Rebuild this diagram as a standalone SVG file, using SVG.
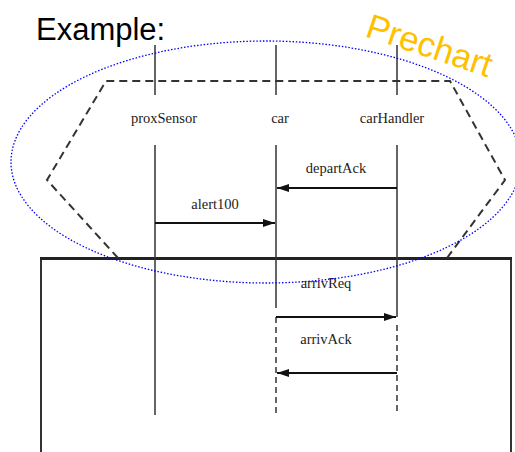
<svg xmlns="http://www.w3.org/2000/svg" width="515" height="452" viewBox="0 0 515 452">
<defs>
<style>
.ll{stroke:#333;stroke-width:1.5;fill:none}
.dl{stroke:#333;stroke-width:1.5;fill:none;stroke-dasharray:6,4}
.msg{stroke:#111;stroke-width:2;fill:none}
.lbl{font-family:"Liberation Serif","DejaVu Serif",serif;font-size:14.5px;fill:#222;text-anchor:middle}
</style>
<marker id="ah" viewBox="0 0 12 8" refX="12" refY="4" markerWidth="12" markerHeight="8" markerUnits="userSpaceOnUse" orient="auto">
<path d="M0,0 L12,4 L0,8 z" fill="#111"/>
</marker>
</defs>
<rect width="515" height="452" fill="#fff"/>
<text x="36" y="40" font-family="Liberation Sans, Arial, sans-serif" font-size="31" fill="#000">Example:</text>
<g id="mainchart">
<path d="M41,460 L41,258.5 L511,258.5 L511,460" stroke="#333" stroke-width="2" fill="none"/>
<line x1="40" y1="258.5" x2="512" y2="258.5" stroke="#222" stroke-width="3"/>
</g>
<g id="prechart-hexagon">
<path d="M118,258 L47,180 L106,81 L450,81 L505,180 L447,258" stroke="#333" stroke-width="2" fill="none" stroke-dasharray="8,5"/>
</g>
<g id="proxSensor">
<line class="ll" x1="155" y1="45" x2="155" y2="95"/>
<text class="lbl" x="164" y="123">proxSensor</text>
<line class="ll" x1="155" y1="145" x2="155" y2="415"/>
</g>
<g id="car">
<line class="ll" x1="276" y1="45" x2="276" y2="95"/>
<text class="lbl" x="280" y="123">car</text>
<line class="ll" x1="276" y1="145" x2="276" y2="308"/>
<line class="dl" x1="276" y1="317" x2="276" y2="413"/>
</g>
<g id="carHandler">
<line class="ll" x1="397" y1="45" x2="397" y2="95"/>
<text class="lbl" x="392" y="123">carHandler</text>
<line class="ll" x1="397" y1="145" x2="397" y2="317"/>
<line class="dl" x1="397" y1="325" x2="397" y2="413"/>
</g>
<g id="connectors">
<line class="msg" x1="397" y1="188" x2="277" y2="188" marker-end="url(#ah)"/>
<line class="msg" x1="155" y1="223" x2="275" y2="223" marker-end="url(#ah)"/>
<line class="msg" x1="276" y1="317" x2="396" y2="317" marker-end="url(#ah)"/>
<line class="msg" x1="397" y1="373" x2="277" y2="373" marker-end="url(#ah)"/>
</g>
<g id="labels">
<text class="lbl" x="336" y="173">departAck</text>
<text class="lbl" x="215" y="209">alert100</text>
<text class="lbl" x="326" y="288">arrivReq</text>
<text class="lbl" x="326" y="344">arrivAck</text>
</g>
<g id="prechart-ellipse">
<ellipse cx="266" cy="162" rx="255" ry="121" fill="none" stroke="#0000ff" stroke-width="1.3" stroke-dasharray="1.5,1.8"/>
<text x="364" y="36" transform="rotate(18.5 364 36)" font-family="Liberation Sans, Arial, sans-serif" font-size="34.5" fill="#FFC000">Prechart</text>
</g>
</svg>
